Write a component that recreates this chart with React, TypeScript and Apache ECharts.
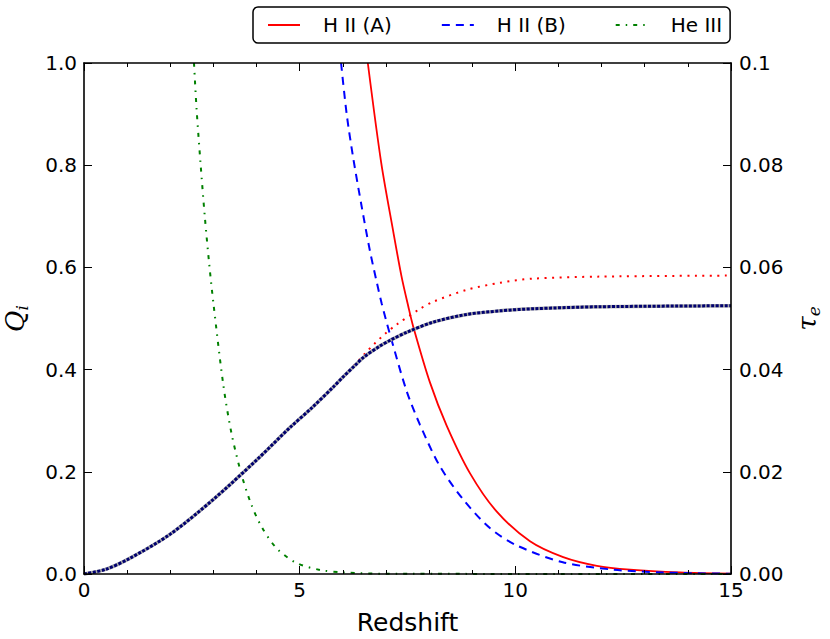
import React, { useEffect, useRef } from "react";
import * as echarts from "echarts";

// H II (A): redshift vs ionized fraction (Q = 1 below z = 6.58)
const zA = [6.58, 6.89, 7.17, 7.36, 7.52, 7.63, 8.02, 8.41, 8.95, 9.57, 10.34, 11.11, 11.89, 12.66, 13.82, 15];
const qA = [1, 0.805, 0.67, 0.583, 0.523, 0.485, 0.375, 0.29, 0.197, 0.122, 0.064, 0.033, 0.016, 0.0085, 0.003, 0.0005];

// H II (B)
const zB = [5.96, 6.09, 6.24, 6.44, 6.63, 6.79, 6.9, 7.09, 7.48, 7.79, 8.25, 8.79, 9.41, 10.03, 11.1, 12.27, 13.43, 15];
const qB = [1, 0.9, 0.815, 0.718, 0.632, 0.57, 0.53, 0.47, 0.358, 0.292, 0.211, 0.146, 0.09, 0.056, 0.023, 0.0085, 0.003, 0.0005];

// He III
const zHe = [2.55, 2.61, 2.705, 2.8, 2.905, 3.0, 3.23, 3.42, 3.65, 3.87, 4.12, 4.47, 4.93, 5.47, 6.0, 7.0, 15];
const qHe = [1, 0.91, 0.8, 0.7, 0.605, 0.53, 0.37, 0.275, 0.195, 0.138, 0.092, 0.05, 0.0215, 0.008, 0.003, 0.0005, 0];

// optical depth tau_e, model A
const zTA = [0, 0.5, 1.07, 2, 3, 4, 4.78, 5.28, 5.78, 6.0, 6.28, 6.52, 6.75, 6.98, 7.23, 7.79, 8.1, 8.87, 9.65, 10.4, 11.96, 15];
const tA = [0, 0.0009, 0.0031, 0.0078, 0.0146, 0.0223, 0.0287, 0.0325, 0.0366, 0.0385, 0.041, 0.0432, 0.0452, 0.047, 0.0487, 0.0519, 0.0533, 0.0556, 0.057, 0.0578, 0.0582, 0.0584];

// optical depth tau_e, model B
const zTB = [0, 0.5, 1.07, 2, 3, 4, 4.78, 5.28, 5.78, 6.0, 6.28, 6.48, 6.86, 7.09, 7.48, 8.1, 8.87, 9.65, 10.4, 11.96, 15];
const tB = [0, 0.0009, 0.0031, 0.0078, 0.0146, 0.0223, 0.0287, 0.0325, 0.0366, 0.0385, 0.0408, 0.0424, 0.0446, 0.0457, 0.0473, 0.0493, 0.0508, 0.0515, 0.0519, 0.0523, 0.0525];

const legendNames = ["H II (A)", "H II (B)", "He III"];

const pairs = (xs: number[], ys: number[]) => xs.map((x, i) => [x, ys[i]]);

const FONT = "DejaVu Sans";

export default function App() {
  const ref = useRef<HTMLDivElement>(null);
  useEffect(() => {
    document.body.style.margin = "0";
    document.body.style.overflow = "hidden";
    const chart = echarts.init(ref.current!, null, { renderer: "svg" });
    const axisLine = { show: true, onZero: false, lineStyle: { color: "#000", width: 1.6 } };
    const tickStyle = { color: "#000", width: 1 };
    chart.setOption({
      animation: false,
      textStyle: { fontFamily: FONT },
      grid: { left: 84, top: 63, width: 647, height: 511, containLabel: false, outerBoundsMode: "none" },
      legend: {
        data: legendNames,
        left: 253,
        top: 7,
        orient: "horizontal",
        borderColor: "#000",
        borderWidth: 1.5,
        borderRadius: 5,
        padding: [8, 8, 8, 14],
        itemWidth: 32,
        itemHeight: 14,
        itemGap: 49,
        itemStyle: { opacity: 0 },
        textStyle: { fontFamily: FONT, fontSize: 20, color: "#000", padding: [0, 0, 0, 18] },
      },
      xAxis: [
        {
          type: "value",
          min: 0,
          max: 15,
          interval: 5,
          position: "bottom",
          z: 10,
          name: "Redshift",
          nameLocation: "middle",
          nameGap: 36,
          nameTextStyle: { fontFamily: FONT, fontSize: 25, color: "#000" },
          axisLine,
          axisTick: { show: true, inside: true, length: 8, lineStyle: tickStyle },
          minorTick: { show: true, splitNumber: 5, length: 4, lineStyle: tickStyle },
          axisLabel: { fontFamily: FONT, fontSize: 20, color: "#000", margin: 6 },
          splitLine: { show: false },
        },
        {
          type: "value",
          min: 0,
          max: 15,
          interval: 5,
          position: "top",
          z: 10,
          axisLine,
          axisTick: { show: true, inside: true, length: 8, lineStyle: tickStyle },
          minorTick: { show: true, splitNumber: 5, length: 4, lineStyle: tickStyle },
          axisLabel: { show: false },
          splitLine: { show: false },
        },
      ],
      yAxis: [
        {
          type: "value",
          min: 0,
          max: 1,
          interval: 0.2,
          position: "left",
          z: 10,
          name: "{q|Q}{i|i}",
          nameLocation: "middle",
          nameGap: 54,
          nameRotate: 90,
          nameTextStyle: {
            rich: {
              q: { fontFamily: "DejaVu Serif", fontStyle: "italic", fontSize: 26, color: "#000" },
              i: { fontFamily: "DejaVu Serif", fontStyle: "italic", fontSize: 17, color: "#000", padding: [14, 0, 0, 0] },
            },
          },
          axisLine,
          axisTick: { show: true, inside: true, length: 8, lineStyle: tickStyle },
          axisLabel: { fontFamily: FONT, fontSize: 20, color: "#000", margin: 7, formatter: (v: number) => v.toFixed(1) },
          splitLine: { show: false },
        },
        {
          type: "value",
          min: 0,
          max: 0.1,
          interval: 0.02,
          position: "right",
          z: 10,
          name: "{t|τ}{e|e}",
          nameLocation: "middle",
          nameGap: 54,
          nameRotate: 90,
          nameTextStyle: {
            rich: {
              t: { fontFamily: "DejaVu Serif", fontStyle: "italic", fontSize: 26, color: "#000" },
              e: { fontFamily: "DejaVu Serif", fontStyle: "italic", fontSize: 17, color: "#000", padding: [14, 0, 0, 0] },
            },
          },
          axisLine,
          axisTick: { show: true, inside: true, length: 8, lineStyle: tickStyle },
          axisLabel: {
            fontFamily: FONT,
            fontSize: 20,
            color: "#000",
            margin: 8,
            formatter: (v: number) => (Math.abs(v - 0.1) < 1e-9 ? "0.1" : v.toFixed(2)),
          },
          splitLine: { show: false },
        },
      ],
      series: [
        {
          name: "H II (A)",
          type: "line",
          xAxisIndex: 0,
          yAxisIndex: 0,
          data: pairs(zA, qA),
          showSymbol: false,
          symbol: "none",
          smooth: 0.3,
          lineStyle: { color: "#ff0000", width: 1.8, type: "solid" },
          itemStyle: { color: "#ff0000" },
          z: 3,
        },
        {
          name: "H II (B)",
          type: "line",
          xAxisIndex: 0,
          yAxisIndex: 0,
          data: pairs(zB, qB),
          showSymbol: false,
          symbol: "none",
          smooth: 0.3,
          lineStyle: { color: "#0000ff", width: 2, type: [8, 6] },
          itemStyle: { color: "#0000ff" },
          z: 3,
        },
        {
          name: "He III",
          type: "line",
          xAxisIndex: 0,
          yAxisIndex: 0,
          data: pairs(zHe, qHe),
          showSymbol: false,
          symbol: "none",
          smooth: 0.3,
          lineStyle: { color: "#008000", width: 2, type: [4, 6, 1.5, 6] },
          itemStyle: { color: "#008000" },
          z: 3,
        },
        {
          name: "tauA",
          type: "line",
          xAxisIndex: 0,
          yAxisIndex: 1,
          data: pairs(zTA, tA),
          showSymbol: false,
          symbol: "none",
          smooth: 0.3,
          lineStyle: { color: "#ff0000", width: 2, type: [2, 5.5] },
          z: 2,
        },
        {
          name: "tauBbase",
          type: "line",
          xAxisIndex: 0,
          yAxisIndex: 1,
          data: pairs(zTB, tB),
          showSymbol: false,
          symbol: "none",
          smooth: 0.3,
          lineStyle: { color: "#a8a8a8", width: 3.5, type: "solid" },
          z: 4,
        },
        {
          name: "tauB",
          type: "line",
          xAxisIndex: 0,
          yAxisIndex: 1,
          data: pairs(zTB, tB),
          showSymbol: false,
          symbol: "none",
          smooth: 0.3,
          lineStyle: { color: "#000070", width: 3, type: [3, 1.5] },
          z: 5,
        },
      ],
    });
    return () => chart.dispose();
  }, []);
  return <div ref={ref} style={{ width: 830, height: 639 }} />;
}
